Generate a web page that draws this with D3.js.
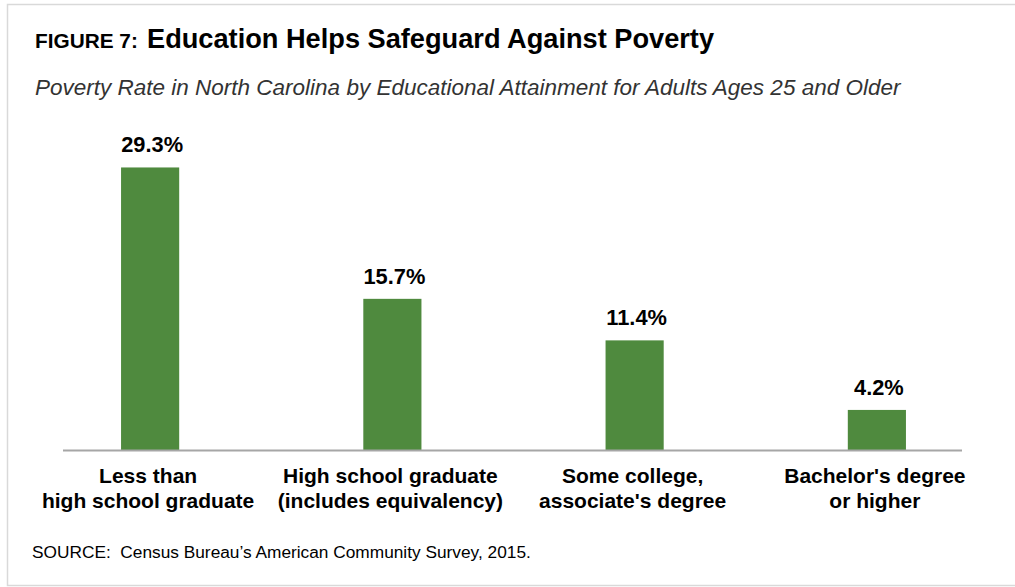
<!DOCTYPE html>
<html>
<head>
<meta charset="utf-8">
<script src="https://cdn.jsdelivr.net/npm/d3@7"></script>
<style>
  body { margin: 0; background: #fff; }
  text { font-family: "Liberation Sans", Arial, sans-serif; }
</style>
</head>
<body>
<div id="chart"></div>
<script>
// Data
let categories = [
  ["Less than", "high school graduate"],
  ["High school graduate", "(includes equivalency)"],
  ["Some college,", "associate's degree"],
  ["Bachelor's degree", "or higher"]
];
let rates = [29.3, 15.7, 11.4, 4.2];
let valueLabels = ["29.3%", "15.7%", "11.4%", "4.2%"];

let W = 1015, H = 587;
let baseY = 450.5;

let svg = d3.select("#chart")
  .append("svg")
  .attr("width", W)
  .attr("height", H);

// light frame round the figure
svg.append("rect")
  .attr("x", 7.5).attr("y", 4.5)
  .attr("width", 1012).attr("height", 581)
  .attr("fill", "#fff")
  .attr("stroke", "#d9d9d9")
  .attr("stroke-width", 1.5);

// title
svg.append("text")
  .attr("x", 35).attr("y", 48)
  .attr("font-size", 20.8)
  .attr("font-weight", "bold")
  .text("FIGURE 7:");
svg.append("text")
  .attr("x", 147).attr("y", 48)
  .attr("font-size", 27.2)
  .attr("font-weight", "bold")
  .text("Education Helps Safeguard Against Poverty");

svg.append("text")
  .attr("x", 35).attr("y", 95)
  .attr("font-size", 22.5)
  .attr("font-style", "italic")
  .attr("fill", "#333")
  .text("Poverty Rate in North Carolina by Educational Attainment for Adults Ages 25 and Older");

// scales
let x = d3.scaleBand()
  .domain(d3.range(categories.length))
  .range([29, 998])
  .paddingInner(0.76)
  .paddingOuter(0.38);

let y = d3.scaleLinear()
  .domain([0, 30])
  .range([baseY, 160.7]);

// bars
svg.append("g")
  .selectAll("rect")
  .data(rates)
  .enter().append("rect")
    .attr("x", (d, i) => x(i))
    .attr("y", d => y(d))
    .attr("width", x.bandwidth())
    .attr("height", d => y(0) - y(d))
    .attr("fill", "#4f8a3e");

// baseline
svg.append("line")
  .attr("x1", 63).attr("x2", 962)
  .attr("y1", baseY).attr("y2", baseY)
  .attr("stroke", "#a6a6a6")
  .attr("stroke-width", 2);

// value labels
svg.append("g")
  .selectAll("text")
  .data(rates)
  .enter().append("text")
    .attr("x", (d, i) => x(i) + x.bandwidth() / 2 + 2)
    .attr("y", d => y(d) - 15)
    .attr("text-anchor", "middle")
    .attr("font-size", 21.8)
    .attr("font-weight", "bold")
    .attr("fill", "#000")
    .text((d, i) => valueLabels[i]);

// category labels, two lines each
let catG = svg.append("g")
  .selectAll("text")
  .data(categories)
  .enter().append("text")
    .attr("text-anchor", "middle")
    .attr("font-size", 21)
    .attr("font-weight", "bold")
    .attr("fill", "#000");

catG.selectAll("tspan")
  .data((d, i) => d.map(line => ({ line: line, i: i })))
  .enter().append("tspan")
    .attr("x", d => x(d.i) + x.bandwidth() / 2 - 2)
    .attr("y", (d, j) => 483 + j * 25)
    .text(d => d.line);

// source note
svg.append("text")
  .attr("x", 32).attr("y", 558)
  .attr("font-size", 17.3)
  .attr("fill", "#000")
  .style("white-space", "pre")
  .text("SOURCE:  Census Bureau\u2019s American Community Survey, 2015.");
</script>
</body>
</html>
